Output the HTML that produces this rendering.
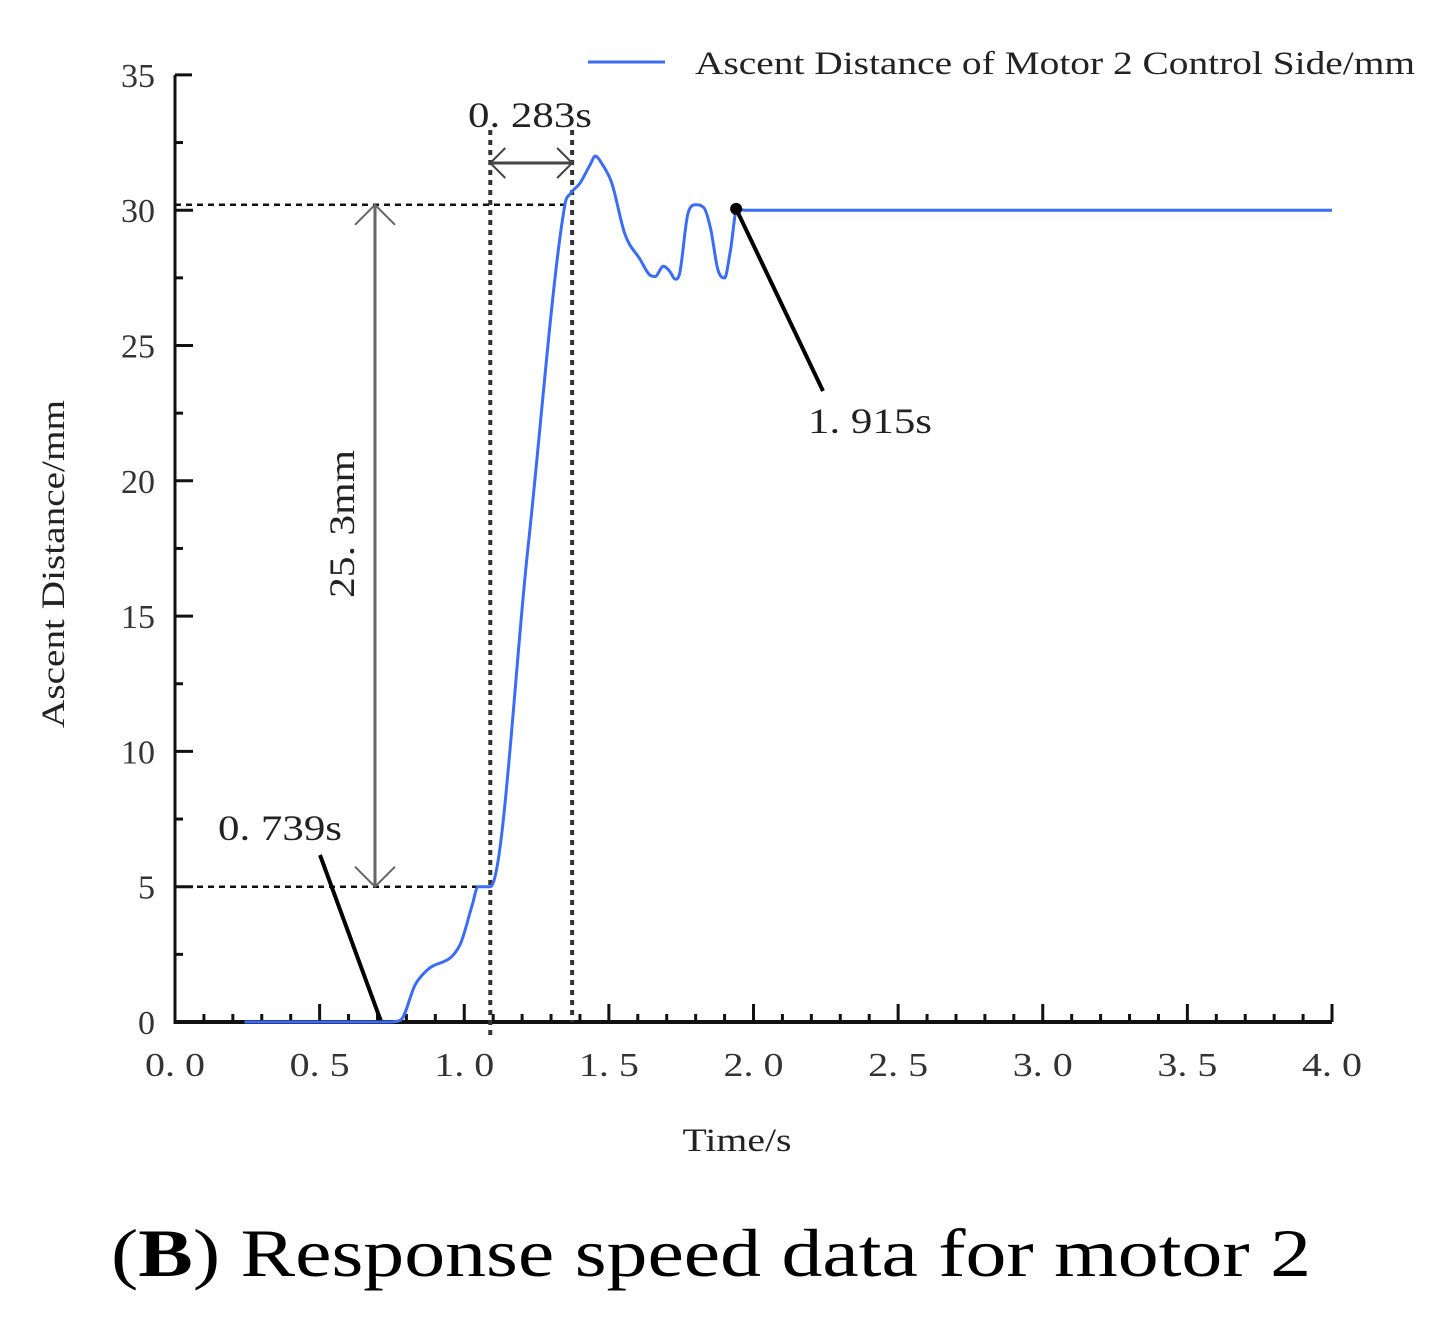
<!DOCTYPE html>
<html><head><meta charset="utf-8"><style>
html,body{margin:0;padding:0;background:#fff;}
svg{display:block;}
text{font-family:"Liberation Serif",serif;}
</style></head><body>
<svg id="chart" width="1452" height="1321" viewBox="0 0 1452 1321" xmlns="http://www.w3.org/2000/svg">
<g id="axes"></g>
<g id="annot"></g>
<g id="series"></g>
<g>
<line x1="588" y1="62" x2="665" y2="62" stroke="#3a6cf5" stroke-width="3"/>
<text x="695" y="74" font-size="33" fill="#222" textLength="720" lengthAdjust="spacingAndGlyphs">Ascent Distance of Motor 2 Control Side/mm</text>
</g>
<text transform="translate(64,564) rotate(-90)" text-anchor="middle" font-size="33" fill="#222" textLength="328" lengthAdjust="spacingAndGlyphs">Ascent Distance/mm</text>
<text x="737" y="1151" text-anchor="middle" font-size="33" fill="#222" textLength="109" lengthAdjust="spacingAndGlyphs">Time/s</text>
<text x="711" y="1276" text-anchor="middle" font-size="68" fill="#000" textLength="1200" lengthAdjust="spacingAndGlyphs">(<tspan font-weight="bold">B</tspan>) Response speed data for motor 2</text>
</svg>
<script>
const timeVals=[0.24,0.74,0.78,0.83,0.87,0.985,1.027,1.048,1.09,1.22,1.348,1.366,1.40,1.436,1.453,1.477,1.51,1.556,1.607,1.642,1.66,1.688,1.71,1.73,1.743,1.774,1.8,1.828,1.852,1.877,1.9,1.92,1.943,1.97,4.0];
const distVals=[0,0,0.07,1.37,1.9,2.85,4.3,5.0,5.0,17.5,30.2,30.6,31.0,31.7,32.0,31.7,31.0,29.1,28.2,27.6,27.55,27.93,27.75,27.45,27.6,29.9,30.2,30.1,29.3,27.8,27.5,28.5,30.05,30.0,30.0];
const xTicks=[0,0.5,1.0,1.5,2.0,2.5,3.0,3.5,4.0];
const xTickLabels=["0. 0","0. 5","1. 0","1. 5","2. 0","2. 5","3. 0","3. 5","4. 0"];
const yTicks=[0,5,10,15,20,25,30,35];
const yTickLabels=["0","5","10","15","20","25","30","35"];
const markT=[0.739,1.09,1.373,1.94];
const markD=[5.0,30.2];
const NS="http://www.w3.org/2000/svg";
const X=t=>175+t*289.25, Y=d=>1022-d*27.06;
function mk(p,tag,at){const e=document.createElementNS(NS,tag);for(const k in at)e.setAttribute(k,at[k]);p.appendChild(e);return e;}
const ax=document.getElementById('axes'),an=document.getElementById('annot'),se=document.getElementById('series');
let e=mk(ax,'line',{x1:174,y1:Y(0),x2:X(4),y2:Y(0),stroke:'#111','stroke-width':4});

e=mk(ax,'line',{x1:175,y1:Y(0)+2,x2:175,y2:Y(35),stroke:'#111','stroke-width':3});

mk(ax,'line',{x1:175,y1:Y(35),x2:192,y2:Y(35),stroke:'#111','stroke-width':3});
for(let i=1;i<=40;i++){const t=i/10,maj=i%5===0;mk(ax,'line',{x1:X(t),y1:Y(0),x2:X(t),y2:Y(0)-(maj?18:8),stroke:'#111','stroke-width':3});}
for(let i=1;i<14;i++){const d=i*2.5,maj=i%2===0;mk(ax,'line',{x1:175,y1:Y(d),x2:175+(maj?18:8),y2:Y(d),stroke:'#111','stroke-width':3});}
xTicks.forEach((t,i)=>{const el=mk(ax,'text',{x:X(t),y:1076,'text-anchor':'middle','font-size':34,fill:'#333',textLength:60,lengthAdjust:'spacingAndGlyphs'});el.textContent=xTickLabels[i];
});
yTicks.forEach((d,i)=>{const el=mk(ax,'text',{x:155,y:Y(d)+12,'text-anchor':'end','font-size':34,fill:'#333'});el.textContent=yTickLabels[i];
});
const dash={stroke:'#111','stroke-width':2.5,'stroke-dasharray':'6 5'};
mk(an,'line',Object.assign({x1:175,y1:Y(markD[1]),x2:X(1.355),y2:Y(markD[1])},dash));
mk(an,'line',Object.assign({x1:175,y1:Y(markD[0]),x2:X(markT[1]),y2:Y(markD[0])},dash));
const vd={stroke:'#333','stroke-width':4,'stroke-dasharray':'5 5'};
mk(an,'line',Object.assign({x1:X(markT[1]),y1:130,x2:X(markT[1]),y2:1035},vd));
mk(an,'line',Object.assign({x1:X(markT[2]),y1:130,x2:X(markT[2]),y2:1022},vd));
const ax1=375,yt=Y(markD[1]),yb=Y(markD[0]);
mk(an,'line',{x1:ax1,y1:yt,x2:ax1,y2:yb,stroke:'#666','stroke-width':3});
mk(an,'path',{d:`M${ax1-20},${yt+20} L${ax1},${yt} L${ax1+20},${yt+20} M${ax1-20},${yb-20} L${ax1},${yb} L${ax1+20},${yb-20}`,stroke:'#666','stroke-width':2,fill:'none'});
const xl=X(markT[1]),xr=X(markT[2]);
mk(an,'line',{x1:xl,y1:163,x2:xr,y2:163,stroke:'#444','stroke-width':3});
mk(an,'path',{d:`M${xl+15},${148} L${xl},163 L${xl+15},178 M${xr-15},148 L${xr},163 L${xr-15},178`,stroke:'#444','stroke-width':2,fill:'none'});
const TL={textLength:124,lengthAdjust:'spacingAndGlyphs','font-size':36,fill:'#222'};
let t=mk(an,'text',Object.assign({x:468,y:127},TL));t.textContent='0. 283s';

t=mk(an,'text',Object.assign({transform:'translate(354,598) rotate(-90)'},TL,{textLength:148}));t.textContent='25. 3mm';

t=mk(an,'text',Object.assign({x:218,y:840},TL));t.textContent='0. 739s';

t=mk(an,'text',Object.assign({x:808,y:433},TL));t.textContent='1. 915s';

mk(an,'line',{x1:320,y1:855,x2:X(0.713),y2:Y(0),stroke:'#000','stroke-width':4});
const px=timeVals.map(X),py=distVals.map(Y),n=px.length;
const dl=[],m=[];
for(let i=0;i<n-1;i++)dl.push((py[i+1]-py[i])/(px[i+1]-px[i]));
for(let i=0;i<n;i++){if(i===0)m.push(dl[0]);else if(i===n-1)m.push(dl[n-2]);else m.push(dl[i-1]*dl[i]<=0?0:(dl[i-1]+dl[i])/2);}
for(let i=0;i<n-1;i++){if(dl[i]===0){m[i]=0;m[i+1]=0;continue;}const a=m[i]/dl[i],b=m[i+1]/dl[i],s=a*a+b*b;if(s>9){const k=3/Math.sqrt(s);m[i]=k*a*dl[i];m[i+1]=k*b*dl[i];}}
let dstr='M'+px[0].toFixed(1)+','+py[0].toFixed(1);
for(let i=0;i<n-1;i++){const h=(px[i+1]-px[i])/3;
dstr+=` C${(px[i]+h).toFixed(1)},${(py[i]+m[i]*h).toFixed(1)} ${(px[i+1]-h).toFixed(1)},${(py[i+1]-m[i+1]*h).toFixed(1)} ${px[i+1].toFixed(1)},${py[i+1].toFixed(1)}`;}
const p=mk(se,'path',{d:dstr,fill:'none',stroke:'#3a6cf5','stroke-width':3,'stroke-linejoin':'round'});


const dx=X(markT[3]),dy=Y(30.05);
mk(se,'line',{x1:dx,y1:dy,x2:823,y2:391,stroke:'#000','stroke-width':4});
const dot=mk(se,'circle',{cx:dx,cy:dy,r:6,fill:'#000'});


</script>
</body></html>
